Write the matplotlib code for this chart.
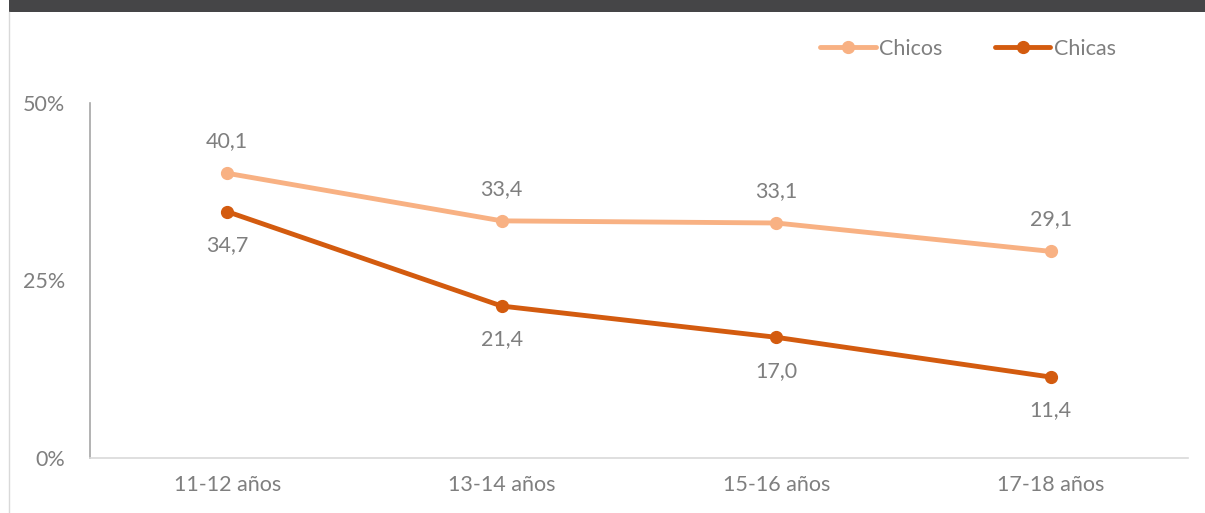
import matplotlib
matplotlib.use("Agg")
import matplotlib.pyplot as plt
from matplotlib.lines import Line2D
from matplotlib.patches import Rectangle

categories = ["11-12 años", "13-14 años", "15-16 años", "17-18 años"]
chicos = [40.1, 33.4, 33.1, 29.1]
chicas = [34.7, 21.4, 17.0, 11.4]
yticks = [0, 25, 50]
ytick_labels = ["0%", "25%", "50%"]

c_chicos = "#F8B183"
c_chicas = "#D35B0F"
txt = "#7F7F7F"
plt.rcParams['font.family'] = ['Lato', 'DejaVu Sans']
FS = 15.5

W, H = 1205, 513
fig = plt.figure(figsize=(W/100, H/100), dpi=100)

# top dark band and left border
fig.add_artist(Rectangle((9/W, 1-12/H), 1-9/W, 12/H, transform=fig.transFigure,
                         facecolor="#454547", edgecolor="none"))
fig.add_artist(Line2D([8.5/W, 8.5/W], [0, 1-12/H], transform=fig.transFigure,
                      color="#D9D9D9", lw=1))

ax = fig.add_axes([90/W, 55/H, (1188-90)/W, (458-103)/H])
x = list(range(len(categories)))
ax.plot(x, chicos, color=c_chicos, lw=3.5, marker="o", ms=8.5, solid_capstyle="round", label="Chicos", zorder=3)
ax.plot(x, chicas, color=c_chicas, lw=3.5, marker="o", ms=8.5, solid_capstyle="round", label="Chicas", zorder=3)

for xi, v in zip(x, chicos):
    ax.annotate(f"{v:.1f}".replace(".", ","), (xi, v), xytext=(0, 23), textcoords="offset points",
                ha="center", va="center", fontsize=FS, color=txt)
for xi, v in zip(x, chicas):
    ax.annotate(f"{v:.1f}".replace(".", ","), (xi, v), xytext=(0, -24), textcoords="offset points",
                ha="center", va="center", fontsize=FS, color=txt)

ax.set_xlim(-0.5, len(categories) - 0.5)
ax.set_ylim(0, 50)
ax.set_yticks(yticks)
ax.set_yticklabels(ytick_labels)
ax.set_xticks(x)
ax.set_xticklabels(categories)
ax.tick_params(axis="both", length=0, labelsize=FS, labelcolor=txt)
ax.tick_params(axis="y", pad=18)
ax.tick_params(axis="x", pad=12)
for s in ["top", "right"]:
    ax.spines[s].set_visible(False)
ax.spines["left"].set_color("#A6A6A6")
ax.spines["bottom"].set_color("#D9D9D9")
ax.spines["left"].set_linewidth(1.2)
ax.spines["bottom"].set_linewidth(1.2)

leg = ax.legend(loc="center", bbox_to_anchor=(968/W, 1-49/H), bbox_transform=fig.transFigure,
                ncol=2, frameon=False, fontsize=FS, handlelength=2.6, columnspacing=2.4,
                handletextpad=0.15, labelcolor=txt)

fig.savefig("out.png", dpi=100, facecolor="white")
